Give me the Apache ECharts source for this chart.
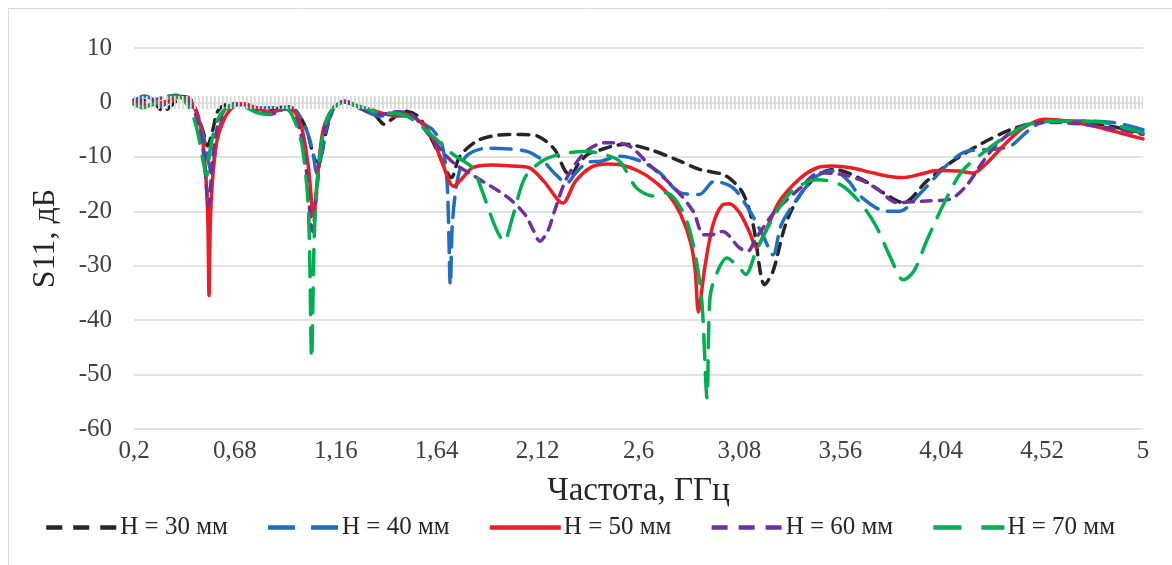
<!DOCTYPE html>
<html>
<head>
<meta charset="utf-8">
<script src="https://cdn.jsdelivr.net/npm/echarts@6/dist/echarts.min.js"></script>
<style>html,body{margin:0;padding:0;background:#fff}#c{width:1172px;height:565px}</style>
</head>
<body>
<div id="c"></div>
<script>
// ---- data (frequency in GHz, S11 in dB) ----
const xTickLabels = ['0,2','0,68','1,16','1,64','2,12','2,6','3,08','3,56','4,04','4,52','5'];
const yTicks = [10, 0, -10, -20, -30, -40, -50, -60];
const seriesNames = ['H = 30 мм', 'H = 40 мм', 'H = 50 мм', 'H = 60 мм', 'H = 70 мм'];

const f30 = [0.2,0.25,0.3,0.34,0.38,0.43,0.47,0.5,0.53,0.55,0.575,0.6,0.65,0.7,0.78,0.85,0.92,0.97,1.02,1.06,1.08,1.11,1.15,1.2,1.28,1.35,1.39,1.43,1.49,1.55,1.6,1.65,1.71,1.75,1.83,1.9,1.98,2.05,2.12,2.2,2.25,2.28,2.31,2.36,2.42,2.48,2.54,2.65,2.78,2.89,3.0,3.05,3.1,3.145,3.2,3.24,3.3,3.37,3.46,3.53,3.6,3.68,3.76,3.86,3.97,4.05,4.13,4.24,4.37,4.49,4.6,4.79,5.0];
const s30 = [-0.3,0.4,-0.3,-1.6,-0.5,1.1,0.5,-2,-5.5,-8,-5,-1.5,-0.3,-0.3,-1.0,-1.5,-0.7,-1.5,-5,-10.5,-11,-6,-1,0.2,-1.0,-2.5,-4,-3,-1.6,-2.5,-5.5,-9.5,-13.8,-9.9,-7.1,-6.2,-5.9,-5.9,-6.2,-8.6,-12.5,-13.5,-11.5,-9.5,-8.7,-8,-7.7,-8.6,-10.5,-12.3,-13.2,-14.5,-16.9,-22.4,-33.5,-31,-22.4,-16.9,-13.2,-12.3,-13,-14.5,-16.5,-18.4,-14.5,-12,-9.9,-7.4,-5,-3.7,-3.4,-4,-5.6];

const f40 = [0.2,0.25,0.3,0.33,0.37,0.42,0.46,0.5,0.53,0.555,0.57,0.59,0.62,0.66,0.72,0.8,0.88,0.93,0.98,1.02,1.05,1.07,1.09,1.12,1.16,1.2,1.28,1.37,1.45,1.52,1.58,1.62,1.665,1.69,1.705,1.715,1.74,1.78,1.88,1.97,2.07,2.14,2.2,2.26,2.3,2.36,2.42,2.51,2.61,2.7,2.8,2.89,2.96,3.05,3.13,3.19,3.24,3.28,3.37,3.45,3.53,3.6,3.654,3.78,3.84,3.95,4.07,4.16,4.29,4.37,4.46,4.54,4.68,4.86,5.0];
const s40 = [0.3,1.2,0.3,-0.6,0.2,1.2,0.8,-2,-6,-11,-13.2,-8,-3,-0.5,-0.4,-1.0,-1.0,-0.8,-2,-5,-9,-13,-10,-4,-0.8,0.2,-1.2,-2.5,-2.5,-2.5,-4,-5,-7.7,-15,-33.5,-22,-14,-9.9,-8.4,-8.5,-9,-10.5,-13,-14.8,-13,-11,-10.8,-9.9,-10.8,-12.9,-16.6,-16.9,-14.5,-15.7,-20,-24.3,-28,-22.4,-16.9,-13.5,-12.6,-14.5,-17.2,-20,-20,-16.3,-11.4,-9,-8.6,-8,-5,-3.4,-3.4,-3.7,-5];

const f50 = [0.2,0.27,0.35,0.42,0.46,0.5,0.53,0.55,0.557,0.565,0.59,0.63,0.68,0.72,0.78,0.85,0.92,0.96,1.0,1.03,1.055,1.07,1.1,1.15,1.2,1.27,1.35,1.42,1.5,1.56,1.62,1.67,1.72,1.76,1.81,1.9,2.0,2.08,2.15,2.24,2.3,2.38,2.45,2.52,2.6,2.67,2.74,2.8,2.85,2.87,2.885,2.915,2.955,3.0,3.03,3.08,3.13,3.16,3.2,3.27,3.37,3.45,3.52,3.61,3.7,3.78,3.86,3.94,4.02,4.12,4.19,4.25,4.35,4.43,4.53,4.64,4.76,4.89,5.0];
const s50 = [0,-0.5,0.2,1.0,0.5,-2,-8,-20,-35.5,-20,-8,-3,-0.5,-0.2,-1.0,-1.8,-1.2,-1.5,-5,-12,-21,-15,-5,-1,0.1,-0.8,-1.6,-2.3,-2.2,-3.5,-6.5,-11.5,-15.4,-14,-12,-11.5,-11.7,-12,-14.5,-18.5,-14.5,-11.8,-11.3,-11.5,-12.6,-14.3,-16.8,-20.5,-26,-31,-38.5,-30.4,-22.4,-18.8,-18.6,-20.2,-24,-26.7,-24,-18.2,-13.9,-12,-11.7,-12,-12.8,-13.5,-13.8,-13.2,-12.5,-12.6,-13,-11.4,-7.4,-4.7,-3.1,-3.4,-4.3,-5.6,-6.7];

const f60 = [0.2,0.25,0.3,0.35,0.4,0.45,0.5,0.53,0.555,0.575,0.6,0.64,0.7,0.78,0.85,0.92,0.97,1.01,1.05,1.07,1.1,1.15,1.2,1.28,1.37,1.45,1.52,1.59,1.68,1.73,1.83,1.98,2.06,2.1,2.13,2.17,2.2,2.26,2.35,2.44,2.48,2.56,2.65,2.77,2.86,2.91,2.95,3.0,3.08,3.12,3.16,3.25,3.37,3.46,3.56,3.654,3.74,3.83,3.97,4.08,4.16,4.24,4.32,4.45,4.6,4.84,5.0];
const s60 = [0.5,0,0.5,1.0,1.3,0.5,-3,-9,-19,-10,-4,-1,-0.4,-1.5,-2.2,-1.2,-3,-9,-23.7,-16,-6,-1,0.1,-1.2,-2.2,-1.7,-2.2,-5.3,-9.6,-11.4,-13.8,-17.5,-20.6,-23.5,-25.5,-23.5,-20,-13.8,-9,-7.4,-7.4,-8.1,-11.4,-15.7,-20,-24.3,-24.3,-23.7,-26.7,-27.3,-24.9,-20,-15.7,-12.9,-13.2,-14.2,-16,-18.4,-18.1,-17.8,-15.3,-10.8,-7.1,-4,-3.7,-4.7,-5.9];

const f70 = [0.2,0.24,0.28,0.33,0.38,0.42,0.47,0.5,0.53,0.545,0.565,0.6,0.65,0.7,0.78,0.84,0.92,0.96,1.0,1.03,1.045,1.06,1.09,1.13,1.2,1.28,1.37,1.45,1.52,1.61,1.72,1.81,1.85,1.92,1.96,2.0,2.06,2.14,2.22,2.34,2.43,2.51,2.59,2.67,2.73,2.81,2.86,2.9,2.926,2.94,2.97,3.02,3.08,3.11,3.16,3.24,3.33,3.45,3.56,3.654,3.73,3.8,3.86,3.91,3.97,4.05,4.14,4.25,4.35,4.47,4.64,4.81,5.0];
const s70 = [-0.3,-1.0,-0.5,0.5,1.2,1.0,-1.5,-5,-11,-13.5,-8,-3,-0.8,-0.5,-1.8,-2.2,-1,-3,-8,-20,-47,-22,-8,-2,0,-0.8,-1.9,-2,-3,-5.8,-9.6,-12,-15.6,-23,-25.5,-21.2,-13.8,-10.8,-9.6,-9,-9.5,-10.8,-15.7,-17.2,-16.6,-20,-26.1,-35.9,-54.3,-35.9,-31.6,-28.6,-30.4,-31.6,-27.3,-21.2,-16.3,-14.2,-15.1,-18.4,-22.7,-28.6,-32.6,-31,-25.5,-18.8,-12.6,-8.95,-6.2,-3.9,-3.4,-3.7,-5.6];

const F0 = 0.2; // first frequency on the axis
const FONT = "'Liberation Serif','Times New Roman',serif";
const colors = ['#262626', '#1F6EBF', '#EE1C25', '#7030A0', '#00B050'];
const dashes = [[11, 8], [20, 10], 'solid', [10, 8], [25, 13]];
const legendDashes = [[16, 11], [27, 16], 'solid', [16, 11], [28, 20]];
const freqs = [f30, f40, f50, f60, f70];
const vals = [s30, s40, s50, s60, s70];

const chart = echarts.init(document.getElementById('c'), null, {renderer: 'canvas'});

const series = [{
  name: 'zero', type: 'line', data: [], silent: true, z: 1,
  markLine: {
    silent: true, symbol: ['none', 'none'], label: {show: false},
    lineStyle: {color: '#d9d9d9', width: 13, type: [1.8, 2.2]},
    data: [{yAxis: 0}]
  }
}];
seriesNames.forEach((n, k) => {
  series.push({
    name: n, type: 'line', symbol: 'none', smooth: 0.3, z: 3,
    lineStyle: {color: colors[k], width: 3.5, type: dashes[k], cap: 'round'},
    itemStyle: {color: colors[k]},
    data: freqs[k].map((f, i) => [f - F0, vals[k][i]])
  });
});

chart.setOption({
  animation: false,
  backgroundColor: '#fff',
  graphic: [{
    type: 'rect', shape: {x: 8.5, y: 8.5, width: 1180, height: 580},
    style: {fill: 'none', stroke: '#d9d9d9', lineWidth: 1}, silent: true
  }],
  grid: {left: 134, right: 29, top: 48, bottom: 136, containLabel: false},
  xAxis: {
    type: 'value', min: 0, max: 4.8, interval: 0.48,
    name: 'Частота, ГГц', nameLocation: 'middle', nameGap: 46,
    nameTextStyle: {fontFamily: FONT, fontSize: 33, color: '#262626'},
    axisLine: {show: false}, axisTick: {show: false}, splitLine: {show: false},
    axisLabel: {
      fontFamily: FONT, fontSize: 25, color: '#404040', margin: 10,
      formatter: v => xTickLabels[Math.round(v / 0.48)]
    }
  },
  yAxis: {
    type: 'value', min: -60, max: 10, interval: 10,
    name: 'S11, дБ', nameLocation: 'middle', nameGap: 72,
    nameTextStyle: {fontFamily: FONT, fontSize: 32, color: '#262626'},
    axisLine: {show: false}, axisTick: {show: false},
    splitLine: {lineStyle: {color: '#d9d9d9', width: 1.5}},
    axisLabel: {fontFamily: FONT, fontSize: 25, color: '#404040', margin: 22,
      formatter: v => (yTicks.indexOf(v) >= 0 ? String(v) : '')}
  },
  legend: {
    data: seriesNames.map((n, k) => ({
      name: n,
      itemStyle: {opacity: 0},
      lineStyle: {color: colors[k], width: 4.5, type: legendDashes[k], cap: 'butt'}
    })),
    top: 510, left: 39,
    itemWidth: 71, itemHeight: 14, itemGap: 38,
    textStyle: {fontFamily: FONT, fontSize: 25, color: '#262626', padding: [0, 0, 0, -2]}
  },
  series: series
});
</script>
</body>
</html>
